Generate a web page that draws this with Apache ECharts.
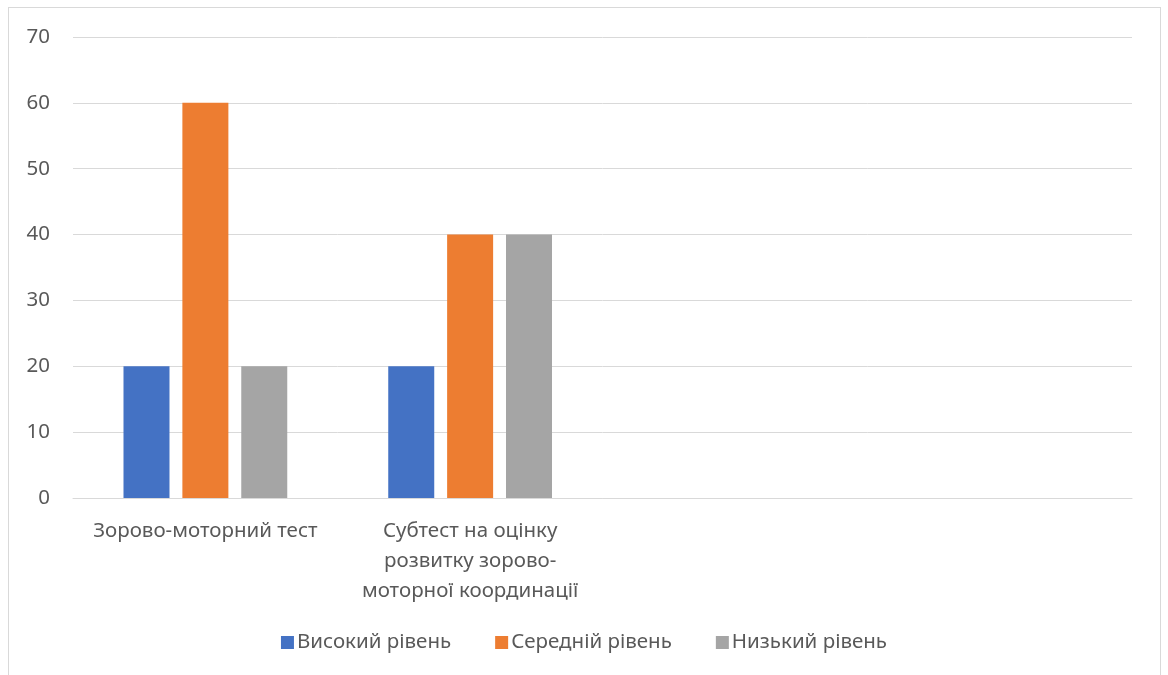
<!DOCTYPE html>
<html>
<head>
<meta charset="utf-8">
<script src="https://cdn.jsdelivr.net/npm/echarts@6/dist/echarts.min.js"></script>
<style>
  html, body { margin: 0; padding: 0; background: #fff; }
  #frame { position: absolute; left: 8px; top: 7px; width: 1151px; height: 700px; border: 1px solid #d9d9d9; }
  #chart { position: absolute; left: 0; top: 0; width: 1168px; height: 675px; }
</style>
</head>
<body>
<div id="frame"></div>
<div id="chart"></div>
<script>
// категорії та значення (%)
const categories = [
  'Зорово-моторний тест',
  'Субтест на оцінку\nрозвитку зорово-\nмоторної координації',
  '',
  ''
];
const seriesNames = ['Високий рівень', 'Середній рівень', 'Низький рівень'];
const high = [20, 20, null, null];
const medium = [60, 40, null, null];
const low = [20, 40, null, null];
const colors = ['#4472c4', '#ed7d31', '#a5a5a5'];

const chart = echarts.init(document.getElementById('chart'));
const font = '"Noto Sans", sans-serif';

const makeSeries = (name, data, color) => ({
  name,
  type: 'bar',
  data,
  barWidth: 46,
  barGap: '28%',
  itemStyle: { color },
});

chart.setOption({
  animation: false,
  textStyle: { fontFamily: font },
  color: colors,
  grid: { left: 73, right: 36, top: 37, bottom: 177 },
  legend: {
    bottom: 17,
    left: 'center',
    itemWidth: 13,
    itemHeight: 13,
    itemGap: 44,
    icon: 'rect',
    textStyle: { fontFamily: font, fontSize: 20.5, color: '#595959', padding: [0, 0, 0, -2] },
    data: seriesNames,
  },
  xAxis: {
    type: 'category',
    data: categories,
    axisTick: { show: false },
    axisLine: { lineStyle: { color: '#d9d9d9', width: 1 } },
    axisLabel: {
      interval: 0,
      margin: 18,
      fontSize: 20.5,
      lineHeight: 30,
      color: '#595959',
      fontFamily: font,
    },
  },
  yAxis: {
    type: 'value',
    min: 0,
    max: 70,
    interval: 10,
    axisLine: { show: false },
    axisTick: { show: false },
    axisLabel: { fontSize: 20.5, color: '#595959', margin: 23, fontFamily: font },
    splitLine: { lineStyle: { color: '#d9d9d9', width: 1 } },
  },
  series: [
    makeSeries(seriesNames[0], high, colors[0]),
    makeSeries(seriesNames[1], medium, colors[1]),
    makeSeries(seriesNames[2], low, colors[2]),
  ],
});
</script>
</body>
</html>
